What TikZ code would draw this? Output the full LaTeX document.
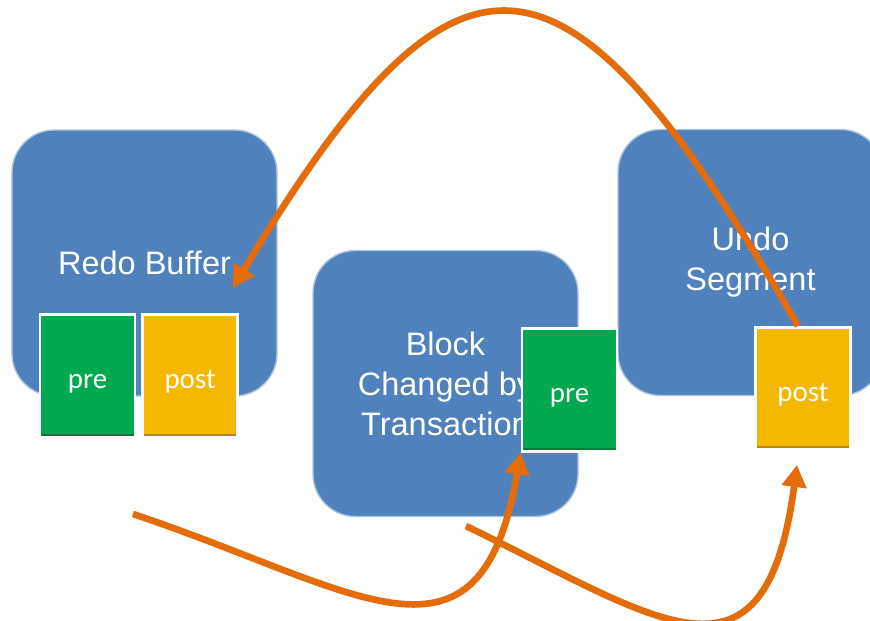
\documentclass[tikz,border=0pt]{standalone}
\usepackage{fontspec}
\setmainfont{Liberation Sans}
\newfontfamily\calib{Carlito}
\usetikzlibrary{positioning, arrows.meta}
\definecolor{boxblue}{RGB}{79,129,189}
\definecolor{boxedge}{RGB}{170,196,228}
\definecolor{pregreen}{RGB}{0,168,80}
\definecolor{postyellow}{RGB}{245,184,0}
\definecolor{flow}{RGB}{228,108,10}

\begin{document}
\begin{tikzpicture}[
  bigbox/.style={draw=boxedge, line width=0.8pt, fill=boxblue, rounded corners=0.85cm,
    minimum width=5.3cm, minimum height=5.32cm, text=white, align=center,
    font=\fontsize{18.5}{22.8}\selectfont},
  smallbox/.style={draw=white, line width=1.5pt, minimum width=1.9cm, minimum height=2.45cm,
    text=white, font=\calib\fontsize{16.5}{20}\selectfont, text height=0.6cm, text depth=0.1cm,
    path picture={\fill[black, opacity=0.25] (path picture bounding box.south west)
      rectangle ([yshift=0.07cm]path picture bounding box.south east);}},
  prebox/.style={smallbox, fill=pregreen},
  postbox/.style={smallbox, fill=postyellow},
  flowline/.style={draw=flow, line width=3.8pt, -{Triangle[length=0.44cm, width=0.48cm]}}
]
\useasboundingbox (0,0) rectangle (17.4,12.4);
\clip (0,0) rectangle (17.4,12.4);
% the three blocks
\node[bigbox] (redo) at (2.89,7.14) {Redo Buffer};
\node[bigbox] (block) at (8.91,4.73) {Block\\Changed by\\Transaction};
\node[bigbox] (undo) at (15.01,7.15) {Undo\\Segment};
% pre and post images
\node[prebox] (preR) at (1.75,4.88) {pre};
\node[postbox, right=0.1cm of preR] (postR) {post};
\node[prebox] (preB) at (11.39,4.6) {pre};
\node[postbox] (postU) at (16.06,4.63) {post};
% free ends of the arrows
\coordinate (redoin) at (4.66,6.64);
\coordinate (redoout) at (2.66,2.12);
\coordinate (blockout) at (9.32,1.88);
\coordinate (undoin) at (15.94,3.1);
% undo post -> redo buffer
\draw[flowline] ([xshift=-0.1cm]postU.north) .. controls (11.32,13.94) and (9.22,14.24) .. (redoin);
% redo -> pre, block -> post
\draw[flowline] (redoout) .. controls (7.2,0.6) and (9.6,-1.4) .. (preB.south west);
\draw[flowline] (blockout) .. controls (13.2,0) and (15.3,-1.7) .. (undoin);
\end{tikzpicture}
\end{document}
